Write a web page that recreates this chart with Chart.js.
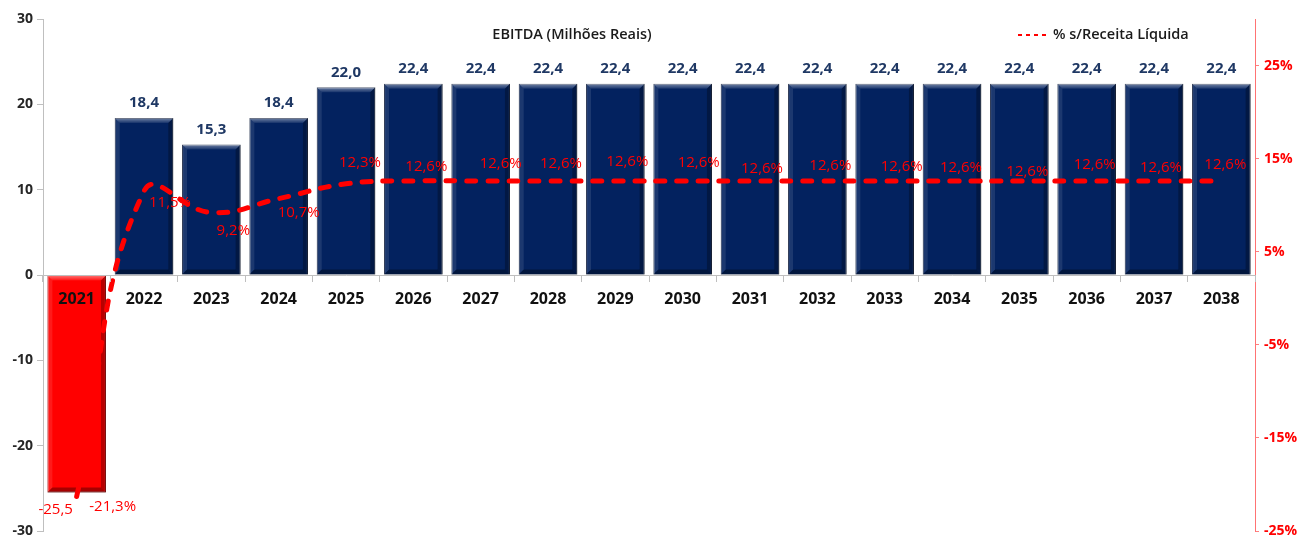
<!DOCTYPE html>
<html>
<head>
<meta charset="utf-8">
<script src="https://cdn.jsdelivr.net/npm/chart.js@4"></script>
<style>
  html, body { margin: 0; padding: 0; background: #ffffff; }
  #wrap { width: 1304px; height: 537px; }
</style>
</head>
<body>
<div id="wrap"><canvas id="c" width="1304" height="537"></canvas></div>
<script>
// ---- data ----
const categories = ['2021','2022','2023','2024','2025','2026','2027','2028','2029','2030','2031','2032','2033','2034','2035','2036','2037','2038'];
const ebitda = [-25.5, 18.4, 15.3, 18.4, 22.0, 22.4, 22.4, 22.4, 22.4, 22.4, 22.4, 22.4, 22.4, 22.4, 22.4, 22.4, 22.4, 22.4];
const margin = [-21.3, 11.5, 9.2, 10.7, 12.3, 12.6, 12.6, 12.6, 12.6, 12.6, 12.6, 12.6, 12.6, 12.6, 12.6, 12.6, 12.6, 12.6];
const leftTicks = [-30, -20, -10, 0, 10, 20, 30];
const rightTicks = [-25, -15, -5, 5, 15, 25];
const barSeriesName = 'EBITDA (Milhões Reais)';
const lineSeriesName = '% s/Receita Líquida';

// ---- label placement (style only) ----
const marginLabelOffsets = [[36,10],[26,12],[22,18],[20,14],[14,-21],[13,-14],[20,-17],[13,-17],[12,-19],[16,-18],[12,-12],[13,-15],[17,-14],[9,-13],[8,-9],[8,-16],[7,-13],[4,-16]];

const FONT = "'Open Sans', 'Liberation Sans', sans-serif";
const fmt = v => v.toFixed(1).replace('.', ',');
const noPad = s => { s.paddingTop = 0; s.paddingBottom = 0; s.paddingLeft = 0; s.paddingRight = 0; };

const bevelPlugin = {
  id: 'bevel',
  afterDatasetDraw(chart, args) {
    if (args.index !== 0) return;
    const ctx = chart.ctx;
    const meta = chart.getDatasetMeta(0);
    ctx.save();
    meta.data.forEach(el => {
      const w = el.width;
      const l = el.x - w / 2, r = el.x + w / 2;
      const t = Math.min(el.y, el.base), b = Math.max(el.y, el.base);
      const e = 5;
      let g = ctx.createLinearGradient(0, t, 0, t + e);
      g.addColorStop(0, 'rgba(255,255,255,0.45)');
      g.addColorStop(1, 'rgba(255,255,255,0.08)');
      ctx.fillStyle = g;
      ctx.beginPath();
      ctx.moveTo(l, t); ctx.lineTo(r, t); ctx.lineTo(r - e, t + e); ctx.lineTo(l + e, t + e); ctx.closePath(); ctx.fill();
      ctx.fillStyle = 'rgba(255,255,255,0.10)';
      ctx.beginPath();
      ctx.moveTo(l, t); ctx.lineTo(l + e, t + e); ctx.lineTo(l + e, b - e); ctx.lineTo(l, b); ctx.closePath(); ctx.fill();
      ctx.fillStyle = 'rgba(0,0,0,0.28)';
      ctx.beginPath();
      ctx.moveTo(r, t); ctx.lineTo(r, b); ctx.lineTo(r - e, b - e); ctx.lineTo(r - e, t + e); ctx.closePath(); ctx.fill();
      ctx.fillStyle = 'rgba(0,0,0,0.35)';
      ctx.beginPath();
      ctx.moveTo(l, b); ctx.lineTo(r, b); ctx.lineTo(r - e, b - e); ctx.lineTo(l + e, b - e); ctx.closePath(); ctx.fill();
    });
    ctx.restore();
  }
};

const labelPlugin = {
  id: 'labels',
  afterDraw(chart) {
    const ctx = chart.ctx;
    ctx.save();
    ctx.textAlign = 'center';
    ctx.textBaseline = 'middle';
    const bm = chart.getDatasetMeta(0);
    bm.data.forEach((el, i) => {
      const v = ebitda[i];
      ctx.font = 'bold 15px ' + FONT;
      if (v >= 0) {
        ctx.fillStyle = '#1F3864';
        ctx.fillText(fmt(v), el.x, Math.min(el.y, el.base) - 15);
      } else {
        ctx.fillStyle = '#FF0000';
        ctx.font = '15px ' + FONT;
        ctx.fillText(fmt(v), el.x - 21, Math.max(el.y, el.base) + 17);
      }
    });
    const lm = chart.getDatasetMeta(1);
    ctx.font = '15px ' + FONT;
    ctx.fillStyle = '#FF0000';
    lm.data.forEach((el, i) => {
      const o = marginLabelOffsets[i] || [10, -15];
      ctx.fillText(fmt(margin[i]) + '%', el.x + o[0], el.y + o[1]);
    });
    ctx.fillStyle = '#1a1a1a';
    ctx.font = '600 14.5px ' + FONT;
    ctx.fillText(barSeriesName, 572, 35);
    ctx.textAlign = 'left';
    ctx.fillText(lineSeriesName, 1053, 35);
    ctx.strokeStyle = '#FF0000';
    ctx.lineWidth = 2;
    ctx.setLineDash([4, 4]);
    ctx.beginPath();
    ctx.moveTo(1018, 35); ctx.lineTo(1050, 35);
    ctx.stroke();
    ctx.restore();
  }
};

new Chart(document.getElementById('c'), {
  data: {
    labels: categories,
    datasets: [
      {
        type: 'bar',
        label: barSeriesName,
        data: ebitda,
        yAxisID: 'y',
        order: 2,
        backgroundColor: ctx => (ebitda[ctx.dataIndex] < 0 ? '#FF0000' : '#03225F'),
        borderColor: ctx => (ebitda[ctx.dataIndex] < 0 ? '#9b0000' : '#0a1838'),
        borderWidth: 1,
        barPercentage: 0.87,
        categoryPercentage: 1.0
      },
      {
        type: 'line',
        label: lineSeriesName,
        data: margin,
        yAxisID: 'y2',
        order: 1,
        borderColor: '#FF0000',
        borderWidth: 5,
        borderDash: [9, 12],
        borderCapStyle: 'round',
        tension: 0.45,
        pointRadius: 0,
        fill: false
      }
    ]
  },
  options: {
    responsive: false,
    devicePixelRatio: 1,
    animation: false,
    layout: { padding: { left: 0, right: 0, top: 19, bottom: 6 } },
    plugins: { legend: { display: false }, title: { display: false }, tooltip: { enabled: false } },
    scales: {
      y: {
        position: 'left',
        min: -30, max: 30,
        afterFit: s => { s.width = 43; noPad(s); },
        afterBuildTicks: s => { s.ticks = leftTicks.map(v => ({ value: v })); },
        grid: { display: true, drawOnChartArea: false, tickLength: 6, color: '#bfbfbf' },
        border: { display: true, color: '#bfbfbf' },
        ticks: { color: '#262626', font: { family: FONT, size: 14, weight: 'bold' }, padding: 4 }
      },
      y2: {
        position: 'right',
        min: -25, max: 30,
        afterFit: s => { s.width = 49; noPad(s); },
        afterBuildTicks: s => { s.ticks = rightTicks.map(v => ({ value: v })); },
        grid: { display: true, drawOnChartArea: false, tickLength: 4, color: 'rgba(255,0,0,0.5)' },
        border: { display: true, color: 'rgba(255,80,80,0.8)', dash: [2, 2] },
        ticks: { color: '#FF0000', font: { family: FONT, size: 14, weight: 'bold' }, padding: 5, callback: v => v + '%' }
      },
      x: {
        type: 'category',
        position: { y: 0 },
        offset: true,
        afterFit: s => { noPad(s); },
        grid: { display: true, offset: true, drawOnChartArea: false, tickLength: 6, color: '#bfbfbf', z: 1 },
        border: { display: true, color: '#bfbfbf', z: 1 },
        ticks: { z: 1, color: '#111111', font: { family: FONT, size: 16, weight: 'bold' }, padding: 9, maxRotation: 0, autoSkip: false }
      }
    }
  },
  plugins: [bevelPlugin, labelPlugin]
});
</script>
</body>
</html>
